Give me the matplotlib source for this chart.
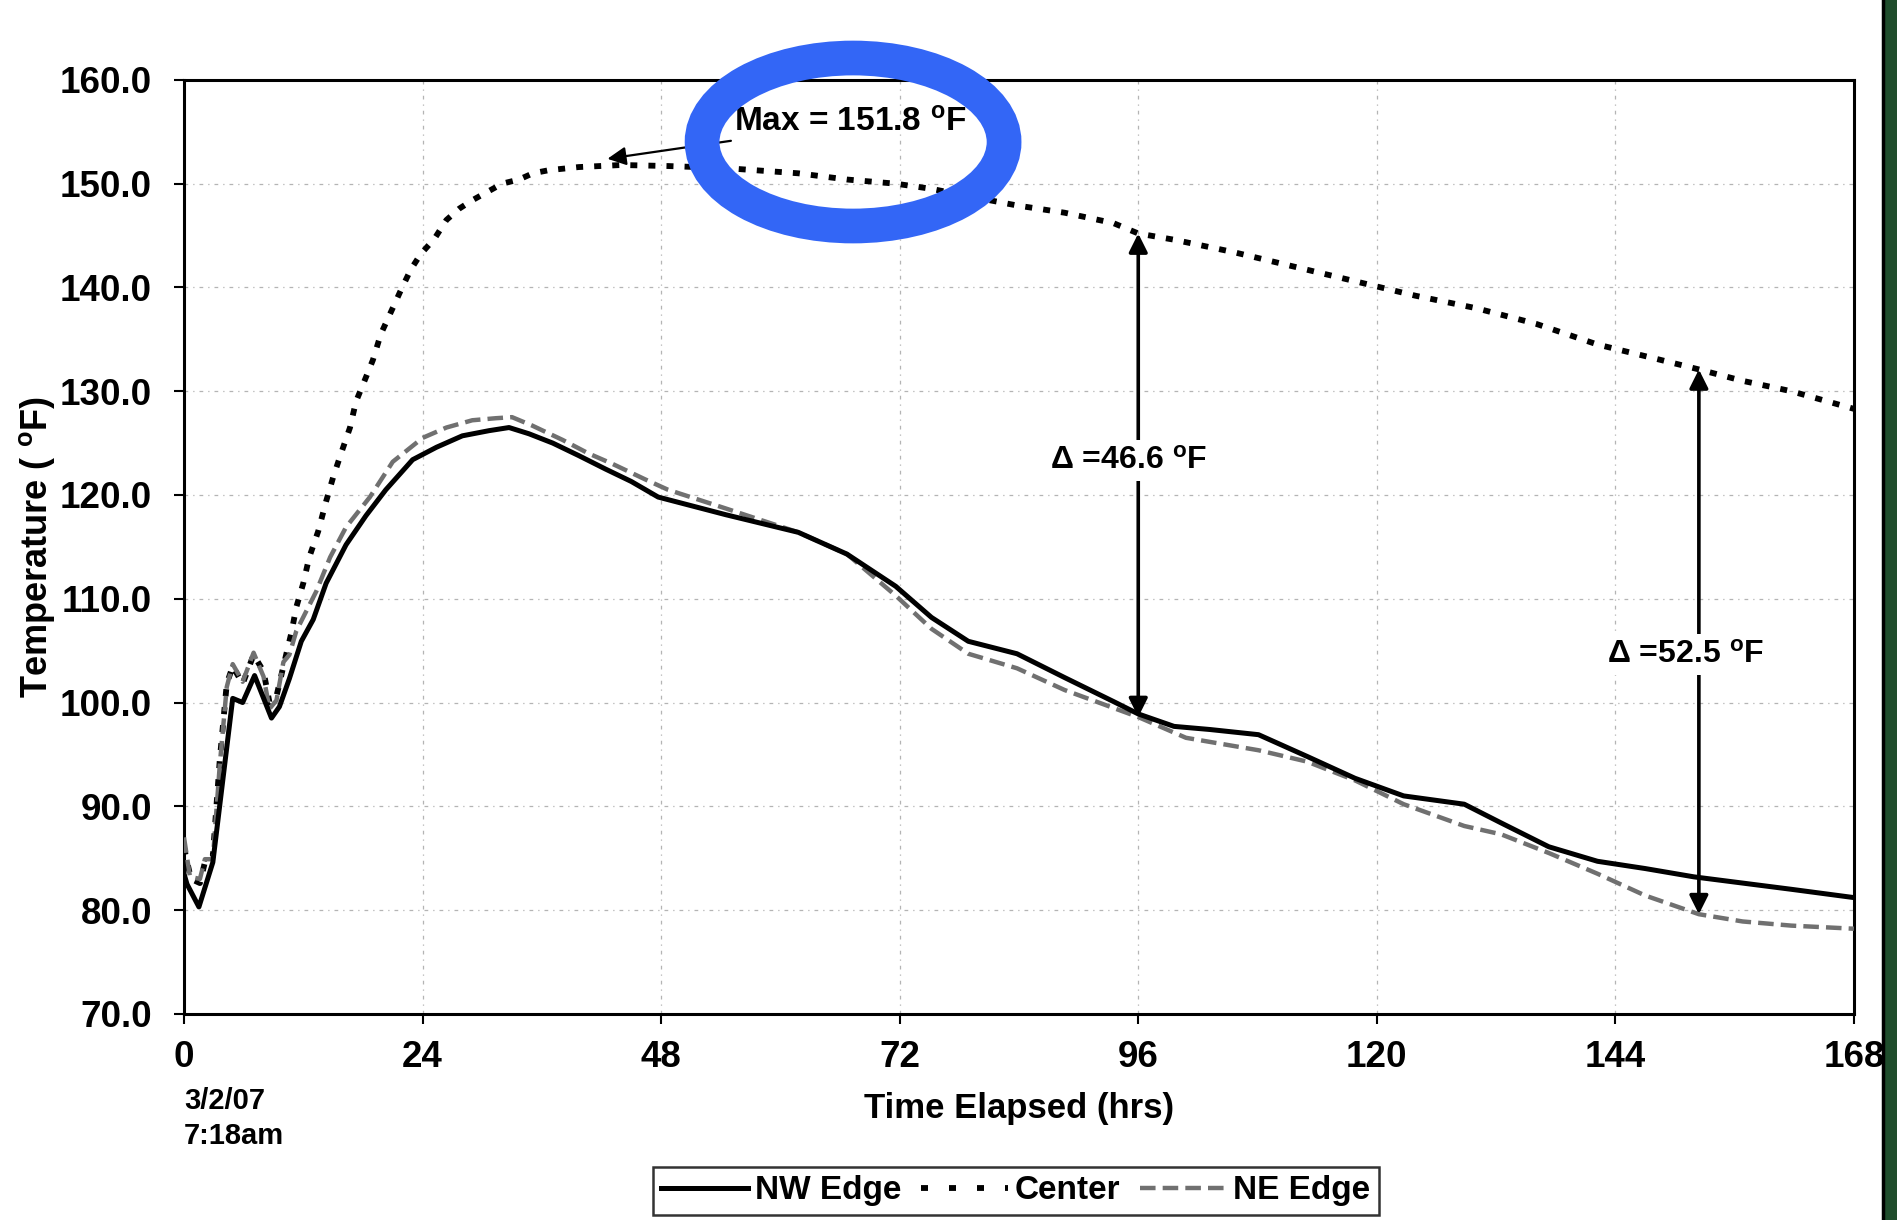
import numpy as np
import matplotlib
matplotlib.use("Agg")
import matplotlib.pyplot as plt
from matplotlib.patches import Ellipse, Rectangle
from matplotlib.lines import Line2D

plt.rcParams['font.family'] = ['Liberation Sans', 'DejaVu Sans']
plt.rcParams['font.weight'] = 'bold'
plt.rcParams['axes.labelweight'] = 'bold'
plt.rcParams['mathtext.default'] = 'regular'

# thermocouple readings, hours after pour vs deg F
nw_t = [0, 0.3, 1.5, 2.9, 4.9, 5.9, 7.1, 8.8, 9.6, 10.6, 11.8, 13.0, 14.3, 16.3, 18.3, 20.3,
        23.0, 25.4, 28.0, 30.7, 32.7, 34.7, 37.1, 39.7, 42.4, 45.0, 47.7, 54.5, 61.8, 66.7,
        71.6, 75.2, 78.9, 83.8, 88.6, 93.5, 96.0, 99.6, 103.2, 108.1, 113.0, 117.8, 122.7,
        128.8, 132.5, 137.3, 142.2, 147.0, 151.9, 156.8, 161.7, 168.0]
nw_temp = [83.5, 82.5, 80.3, 84.6, 100.4, 100.0, 102.6, 98.5, 99.6, 102.3, 105.9, 108.0, 111.5,
           115.2, 118.0, 120.5, 123.4, 124.6, 125.7, 126.2, 126.5, 125.9, 125.0, 123.8, 122.5,
           121.3, 119.8, 118.1, 116.4, 114.3, 111.2, 108.2, 105.9, 104.7, 102.4, 100.1, 98.9,
           97.7, 97.4, 96.9, 94.8, 92.7, 91.0, 90.2, 88.4, 86.1, 84.7, 84.0, 83.2, 82.6, 82.0, 81.2]

center_t = [0, 0.7, 1.6, 2.2, 2.9, 3.6, 4.3, 4.9, 5.9, 7.0, 8.0, 8.6, 9.3, 10.0, 10.8, 11.3, 12.0,
            12.6, 13.5, 14.3, 15.0, 15.8, 16.7, 17.3, 18.2, 19.0, 19.8, 20.8, 21.8, 22.8, 23.8,
            25.2, 26.4, 27.7, 29.0, 30.5, 32.0, 33.7, 35.1, 36.7, 39.7, 44.0, 48.7, 54.5, 61.8,
            66.7, 71.6, 75.2, 78.9, 83.8, 88.6, 93.5, 96.0, 99.6, 105.6, 111.7, 117.8, 123.9,
            130.0, 136.0, 142.2, 148.2, 152.4, 156.8, 161.7, 168.0]
center_temp = [86.0, 83.0, 82.6, 85.0, 85.2, 94.5, 101.8, 103.5, 101.8, 104.6, 103.0, 100.0, 100.6,
               103.5, 106.7, 109.2, 111.5, 114.0, 116.5, 119.4, 121.7, 124.0, 126.5, 129.0, 131.1,
               133.0, 135.5, 137.6, 139.7, 141.7, 143.2, 144.7, 146.5, 147.6, 148.4, 149.2, 150.0,
               150.4, 151.0, 151.3, 151.6, 151.8, 151.7, 151.5, 151.0, 150.4, 150.0, 149.5, 148.8,
               147.9, 147.2, 146.2, 145.2, 144.6, 143.4, 142.0, 140.6, 139.2, 138.0, 136.5, 134.5,
               133.1, 132.1, 131.0, 130.0, 128.3]

ne_t = [0, 0.6, 1.6, 2.1, 2.9, 3.6, 4.3, 4.9, 5.9, 7.0, 8.0, 8.6, 9.3, 10.0, 10.6, 11.3, 13.3,
        14.7, 16.3, 18.7, 21.0, 24.0, 26.4, 29.0, 31.4, 33.0, 35.0, 38.1, 40.7, 43.1, 46.4, 48.7,
        54.5, 61.8, 66.7, 71.6, 75.2, 78.9, 83.8, 88.6, 96.0, 100.8, 108.1, 113.0, 117.8, 122.7,
        128.8, 132.5, 137.3, 142.2, 147.0, 152.4, 156.8, 161.7, 168.0]
ne_temp = [87.0, 83.2, 83.0, 84.9, 84.9, 94.0, 101.5, 103.7, 102.0, 104.8, 102.5, 99.4, 100.2,
           103.9, 104.6, 106.9, 110.7, 114.0, 116.9, 119.8, 123.2, 125.5, 126.5, 127.2, 127.4,
           127.5, 126.7, 125.3, 124.0, 123.0, 121.5, 120.5, 118.7, 116.4, 114.3, 110.3, 107.1,
           104.7, 103.3, 101.2, 98.6, 96.6, 95.4, 94.3, 92.5, 90.2, 88.1, 87.3, 85.5, 83.5, 81.4,
           79.6, 78.9, 78.5, 78.2]

x_ticks = [0, 24, 48, 72, 96, 120, 144, 168]
y_ticks = [70, 80, 90, 100, 110, 120, 130, 140, 150, 160]

# (time, low, high) of the two differential markers
delta_marks = [(96.0, 98.6, 145.2), (152.4, 79.6, 132.1)]
delta_label_pos = [(95.0, 123.3), (151.1, 104.6)]

center_style = (0, (1.2, 1.9))
ne_style = (0, (3.5, 1.6))

fig = plt.figure(figsize=(18.97, 12.2), dpi=100)
ax = fig.add_axes([0.097, 0.169, 0.8803, 0.7655])

ax.plot(nw_t, nw_temp, color='black', lw=3.6, label='NW Edge', zorder=4)
ax.plot(center_t, center_temp, color='black', lw=4.2, linestyle=center_style,
        label='Center', zorder=3)
ax.plot(ne_t, ne_temp, color='#707070', lw=3.2, linestyle=ne_style,
        label='NE Edge', zorder=3)

ax.set_xlim(0, 168)
ax.set_ylim(70, 160)
ax.set_xticks(x_ticks)
ax.set_yticks(y_ticks)
ax.set_yticklabels([f'{v:.1f}' for v in y_ticks])
ax.tick_params(axis='both', direction='out', length=7, width=1.5, labelsize=26.5)
ax.tick_params(axis='x', pad=12)
ax.tick_params(axis='y', pad=16)
ax.grid(True, color='#b4b4b4', lw=0.9, linestyle=(0, (3, 4, 1, 4)), zorder=0)
for s in ax.spines.values():
    s.set_linewidth(2.2)

ax.set_xlabel('Time Elapsed (hrs)', fontsize=25, labelpad=12)
ax.set_ylabel('Temperature ( $^{o}$F)', fontsize=26, labelpad=2)

ax.text(0.0, -0.078, '3/2/07\n7:18am', transform=ax.transAxes, ha='left', va='top',
        fontsize=21, linespacing=1.35)

# peak of the center reading
peak = max(center_temp)
ax.annotate(f'Max = {peak:.1f} $^{{o}}$F', xy=(42.6, 152.4), xytext=(55.3, 155.8),
            fontsize=24, va='center', ha='left',
            arrowprops=dict(arrowstyle='-|>', color='black', lw=1.6, mutation_scale=28,
                            shrinkA=0, shrinkB=0))

for (t, lo, hi), (lx, ly) in zip(delta_marks, delta_label_pos):
    ax.annotate('', xy=(t, hi), xytext=(t, lo),
                arrowprops=dict(arrowstyle='<|-|>', color='black', lw=2.6, mutation_scale=28,
                                shrinkA=0, shrinkB=0), zorder=5)
    ax.text(lx, ly, f'Δ ={hi - lo:.1f} $^{{o}}$F', fontsize=23, ha='center', va='center',
            zorder=6, bbox=dict(facecolor='white', edgecolor='none', pad=4))

handles = [Line2D([], [], color='black', lw=3.6),
           Line2D([], [], color='black', lw=4.2, linestyle=(0, (1.2, 3.6))),
           Line2D([], [], color='#707070', lw=3.2, linestyle=ne_style)]
leg = fig.legend(handles, ['NW Edge', 'Center', 'NE Edge'], loc='center', ncol=3,
                 bbox_to_anchor=(0.5356, 0.0238), fontsize=24, frameon=True, fancybox=False,
                 handlelength=2.6, handletextpad=0.2, columnspacing=0.6, borderpad=0.25)
leg.get_frame().set_edgecolor('black')
leg.get_frame().set_linewidth(1.8)

# highlight ring round the peak label
fig.add_artist(Ellipse((0.4497, 0.8836), 0.1592, 0.1377, transform=fig.transFigure,
                       fill=False, edgecolor='#3366f6', lw=25, zorder=10))

# dark green strip along the right edge
fig.add_artist(Rectangle((0.9926, 0), 0.0074, 1, transform=fig.transFigure,
                         facecolor='#1f4d2c', edgecolor='none', zorder=10))
fig.add_artist(Line2D([0.9926, 0.9926], [0, 1], transform=fig.transFigure, color='black',
                      lw=2.5, zorder=11))

fig.savefig('out.png', dpi=100, facecolor='white')
